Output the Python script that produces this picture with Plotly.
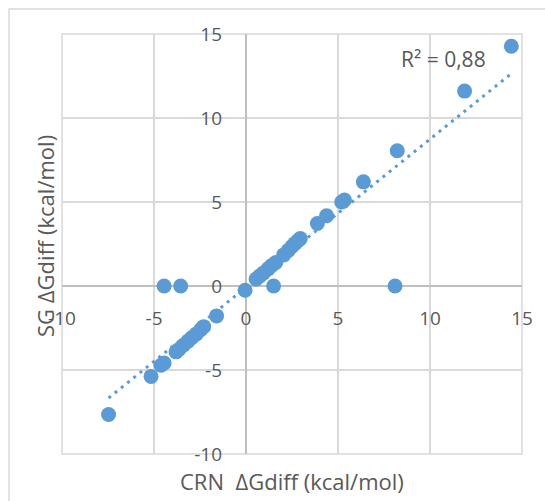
import numpy as np
import plotly.graph_objects as go

# CRN vs SG free-energy differences (kcal/mol)
crn_dg = [-7.47, -5.16, -4.62, -4.45, -3.80, -3.65, -3.40, -3.15, -2.95, -2.70,
          -2.45, -2.30, -1.60, -0.05, 0.55, 0.75, 0.95, 1.20, 1.40, 1.62,
          2.05, 2.30, 2.50, 2.65, 2.80, 2.95, 3.88, 4.38, 5.20, 5.35,
          6.38, 8.22, 11.88, 14.42,
          -4.45, -3.55, 1.50, 8.10]
sg_dg = [-7.65, -5.38, -4.72, -4.58, -3.92, -3.78, -3.53, -3.28, -3.08, -2.85,
         -2.58, -2.42, -1.78, -0.25, 0.42, 0.60, 0.78, 1.02, 1.22, 1.40,
         1.85, 2.12, 2.35, 2.52, 2.68, 2.82, 3.72, 4.18, 5.00, 5.12,
         6.20, 8.05, 11.60, 14.27,
         0.0, 0.0, 0.0, 0.0]

tick_vals = [-10, -5, 0, 5, 10, 15]
r2_label = "R² = 0,88"
x_title = "CRN  ΔGdiff (kcal/mol)"
y_title = "SG ΔGdiff (kcal/mol)"

BLUE = "#5b9bd5"
GRID = "#d9d9d9"
AXIS = "#bfbfbf"
TEXT = "#595959"
FONT = "Open Sans"

# linear trendline over the data range
slope, intercept = np.polyfit(crn_dg, sg_dg, 1)
tx = np.array([min(crn_dg), max(crn_dg)])
ty = slope * tx + intercept

fig = go.Figure()
fig.add_trace(go.Scatter(
    x=tx, y=ty, mode="lines",
    line=dict(color=BLUE, width=3, dash="3px,5px"),
    hoverinfo="skip", showlegend=False))
fig.add_trace(go.Scatter(
    x=crn_dg, y=sg_dg, mode="markers",
    marker=dict(color=BLUE, size=15, line=dict(width=0)),
    showlegend=False))

axis_common = dict(
    range=[-10, 15], tickvals=tick_vals, ticktext=[str(v) for v in tick_vals],
    showgrid=True, gridcolor=GRID, gridwidth=1.5,
    zeroline=True, zerolinecolor=AXIS, zerolinewidth=1.5,
    showline=False, ticks="", anchor="free", position=0.4,
    tickfont=dict(family=FONT, size=19, color=TEXT),
    fixedrange=True,
)

fig.update_layout(
    width=545, height=501, autosize=False,
    margin=dict(l=62, r=23, t=34, b=47),
    paper_bgcolor="white", plot_bgcolor="white",
    xaxis=dict(**axis_common, ticklabelstandoff=19),
    yaxis=dict(**axis_common, ticklabelstandoff=24),
    shapes=[
        # plot-area frame
        dict(type="rect", xref="paper", yref="paper", x0=0, x1=1, y0=0, y1=1,
             line=dict(color=GRID, width=1.5), layer="below"),
        # chart-area frame
        dict(type="rect", xref="paper", yref="paper",
             x0=-0.1152, x1=1.2, y0=-0.3, y1=1.0595,
             line=dict(color=GRID, width=1.5), layer="below"),
    ],
    annotations=[
        dict(text=r2_label, x=10.72, y=13.49, xref="x", yref="y",
             showarrow=False, xanchor="center", yanchor="middle",
             font=dict(family=FONT, size=21, color=TEXT)),
        dict(text=x_title, x=0.5, y=(454 - 481) / 420, xref="paper", yref="paper",
             showarrow=False, xanchor="center", yanchor="middle",
             font=dict(family=FONT, size=22, color=TEXT)),
        dict(text=y_title, x=(45 - 62) / 460, y=(454 - 236) / 420,
             xref="paper", yref="paper", textangle=-90,
             showarrow=False, xanchor="center", yanchor="middle",
             font=dict(family=FONT, size=22, color=TEXT)),
    ],
)

fig.write_html("out.html")
